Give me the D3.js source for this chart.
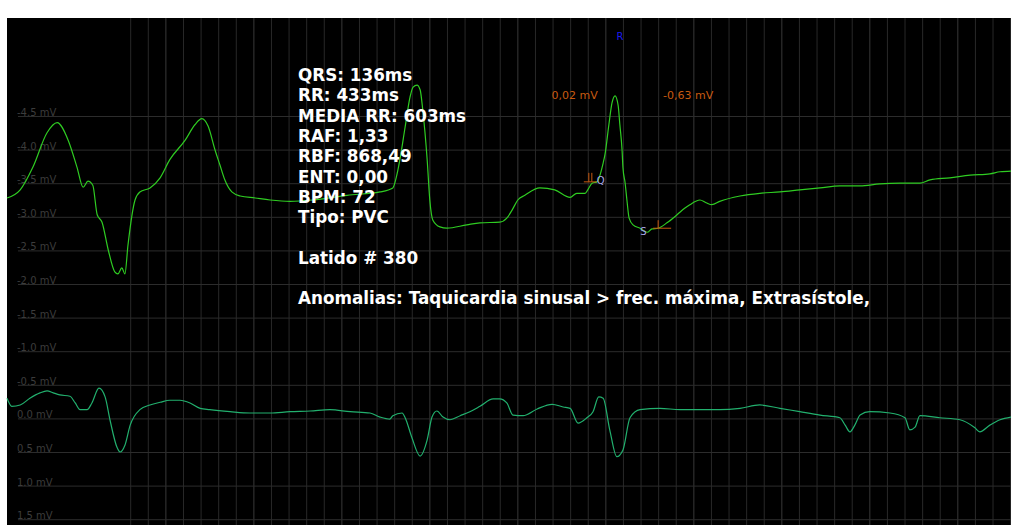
<!DOCTYPE html>
<html>
<head>
<meta charset="utf-8">
<script src="https://cdn.jsdelivr.net/npm/d3@7"></script>
<style>
  html, body { margin: 0; padding: 0; background: #fff; }
  svg { display: block; }
</style>
</head>
<body>
<svg id="ecg" width="1011" height="525"></svg>
<script>
// ---- Lead 1 (upper trace): time in ms, amplitude in mV ----
const topTimes = [0, 30, 59, 91, 114, 139, 159, 173, 184, 195, 205, 216, 230, 245, 252, 261, 268, 275, 291, 302,
  325, 348, 370, 405, 427, 443, 457, 473, 484, 495, 511, 530, 564, 598, 643, 695, 773, 848, 877, 886,
  893, 905, 916, 923, 932, 939, 945, 955, 961, 968, 984, 1000, 1045, 1075, 1120, 1136, 1148, 1161, 1177, 1211,
  1245, 1280, 1295, 1314, 1320, 1330, 1341, 1355, 1359, 1368, 1375, 1382, 1389, 1393, 1398, 1400, 1405, 1409, 1414, 1423,
  1439, 1455, 1466, 1480, 1500, 1523, 1541, 1552, 1575, 1589, 1602, 1620, 1666, 1711, 1757, 1802, 1848, 1893, 1939, 1984,
  2030, 2075, 2098, 2143, 2189, 2234, 2257, 2282];
const topValues = [-3.28, -3.40, -3.74, -4.25, -4.40, -4.14, -3.74, -3.44, -3.53, -3.47, -3.03, -2.92, -2.51, -2.18, -2.15, -2.24, -2.15, -2.58, -3.25, -3.37,
  -3.43, -3.58, -3.85, -4.14, -4.37, -4.46, -4.35, -3.99, -3.77, -3.55, -3.37, -3.31, -3.28, -3.25, -3.23, -3.25, -3.32, -3.37, -3.43, -3.62,
  -3.85, -4.34, -4.78, -4.93, -4.96, -4.89, -4.59, -3.85, -3.25, -2.95, -2.85, -2.83, -2.88, -2.91, -2.92, -2.98, -3.10, -3.25, -3.32, -3.43,
  -3.40, -3.29, -3.35, -3.35, -3.40, -3.50, -3.52, -3.80, -3.92, -4.37, -4.69, -4.80, -4.66, -4.37, -3.99, -3.73, -3.50, -3.25, -2.98, -2.88,
  -2.83, -2.77, -2.82, -2.83, -2.91, -3.03, -3.13, -3.18, -3.25, -3.21, -3.18, -3.23, -3.31, -3.35, -3.37, -3.40, -3.43, -3.46, -3.46, -3.49,
  -3.50, -3.50, -3.55, -3.58, -3.62, -3.64, -3.67, -3.68];

// ---- Lead 2 (lower trace) ----
const bottomTimes = [0, 11, 30, 52, 75, 91, 105, 120, 143, 155, 166, 182, 193, 209, 223, 234, 250, 257, 268, 280,
  302, 325, 348, 370, 393, 416, 439, 461, 507, 552, 598, 643, 689, 734, 780, 825, 848, 870, 877, 898,
  905, 920, 939, 955, 966, 977, 991, 1007, 1030, 1052, 1075, 1105, 1120, 1136, 1150, 1173, 1205, 1239, 1264, 1280,
  1298, 1318, 1332, 1345, 1355, 1370, 1386, 1400, 1416, 1439, 1484, 1530, 1575, 1620, 1666, 1711, 1757, 1802, 1848, 1893,
  1905, 1916, 1927, 1939, 1961, 2007, 2041, 2052, 2064, 2075, 2120, 2166, 2200, 2211, 2234, 2257, 2282];
const bottomValues = [-0.30, -0.18, -0.20, -0.30, -0.38, -0.41, -0.38, -0.35, -0.33, -0.23, -0.13, -0.13, -0.23, -0.45, -0.32, 0.02, 0.43, 0.50, 0.40, 0.10,
  -0.13, -0.20, -0.24, -0.27, -0.27, -0.23, -0.15, -0.13, -0.10, -0.08, -0.08, -0.10, -0.11, -0.13, -0.10, -0.08, -0.02, 0.01, -0.04, -0.08,
  -0.01, 0.28, 0.56, 0.32, -0.02, -0.11, -0.02, 0.02, -0.04, -0.10, -0.18, -0.29, -0.29, -0.23, -0.05, -0.04, -0.14, -0.21, -0.17, -0.15,
  0.07, -0.01, -0.10, -0.32, -0.30, 0.17, 0.57, 0.47, -0.01, -0.13, -0.15, -0.13, -0.13, -0.13, -0.15, -0.20, -0.15, -0.10, -0.05, -0.01,
  0.10, 0.20, 0.10, -0.05, -0.10, -0.08, -0.01, 0.17, 0.13, -0.04, -0.01, 0.02, 0.14, 0.20, 0.10, 0.02, -0.02];

// ---- Axis ticks ----
const amplitudeTicks = [-4.5, -4.0, -3.5, -3.0, -2.5, -2.0, -1.5, -1.0, -0.5, 0.0, 0.5, 1.0, 1.5];
const gridTimes = d3.range(280, 2282, 40);

// ---- Fiducial points of the current beat (lead 1) ----
const qPoint = { t: 1327, v: -3.52 };
const rPoint = { t: 1382, v: -4.80 };
const sPoint = { t: 1480, v: -2.83 };
const amplitudeLabels = [
  { t: 1290, text: "0,02 mV" },
  { t: 1548, text: "-0,63 mV" }
];

// ---- Beat summary ----
const infoLines = [
  "QRS: 136ms",
  "RR: 433ms",
  "MEDIA RR: 603ms",
  "RAF: 1,33",
  "RBF: 868,49",
  "ENT: 0,00",
  "BPM: 72",
  "Tipo: PVC",
  "",
  "Latido # 380",
  "",
  "Anomalias: Taquicardia sinusal > frec. máxima, Extrasístole,"
];

const plot = { left: 7, top: 18, right: 1011, bottom: 525 };

const svg = d3.select("#ecg");

svg.append("rect")
  .attr("x", plot.left).attr("y", plot.top)
  .attr("width", plot.right - plot.left).attr("height", plot.bottom - plot.top)
  .attr("fill", "#000");

const x = d3.scaleLinear().domain([0, 2282]).range([plot.left, plot.right]);
const y = d3.scaleLinear().domain([-4.5, 1.5]).range([116, 519.2]);

// vertical time grid (40 ms)
const xGrid = svg.append("g")
  .attr("transform", `translate(0,${plot.bottom})`)
  .call(d3.axisBottom(x).tickValues(gridTimes).tickSize(-(plot.bottom - plot.top)).tickFormat(""));
xGrid.select(".domain").remove();
xGrid.selectAll(".tick line")
  .attr("stroke", (d, i) => (i % 5 === 2 ? "#383838" : "#282828"))
  .attr("stroke-width", 1);

// horizontal amplitude grid with labels
const yGrid = svg.append("g")
  .attr("transform", "translate(18,0)")
  .call(d3.axisRight(y).tickValues(amplitudeTicks).tickSize(plot.right - 18)
    .tickFormat(d => d.toFixed(1).replace("\u2212", "-") + " mV"));
yGrid.select(".domain").remove();
yGrid.selectAll(".tick line").attr("stroke", "#2c2c2c");
yGrid.selectAll(".tick text")
  .attr("x", -1).attr("dy", "-0.05em")
  .attr("text-anchor", "start")
  .attr("font-family", "DejaVu Sans, sans-serif")
  .attr("font-size", 10)
  .attr("fill", "#3c3c3c");

// traces
const line = d3.line()
  .x(d => x(d[0]))
  .y(d => y(d[1]))
  .curve(d3.curveMonotoneX);

svg.append("path")
  .datum(d3.zip(bottomTimes, bottomValues))
  .attr("fill", "none")
  .attr("stroke", "#22b06e")
  .attr("stroke-width", 1.2)
  .attr("d", line);

svg.append("path")
  .datum(d3.zip(topTimes, topValues))
  .attr("fill", "none")
  .attr("stroke", "#2fcc22")
  .attr("stroke-width", 1.2)
  .attr("d", line);

// fiducial markers
const orange = "#c85a10";
const font = "DejaVu Sans, sans-serif";

const qx = x(qPoint.t), qy = y(qPoint.v);
const qMark = svg.append("g").attr("stroke", orange).attr("stroke-width", 1);
qMark.append("line").attr("x1", qx - 7).attr("x2", qx + 6).attr("y1", qy).attr("y2", qy);
qMark.append("line").attr("x1", qx - 2).attr("x2", qx - 2).attr("y1", qy - 9).attr("y2", qy);
qMark.append("line").attr("x1", qx + 1).attr("x2", qx + 1).attr("y1", qy - 9).attr("y2", qy);
svg.append("text").attr("x", qx + 6).attr("y", qy + 2)
  .attr("font-family", font).attr("font-size", 10).attr("fill", "#a8a8e8").text("Q");

const sx = x(sPoint.t), sy = y(sPoint.v);
const sMark = svg.append("g").attr("stroke", orange).attr("stroke-width", 1);
sMark.append("line").attr("x1", sx - 5).attr("x2", sx + 13).attr("y1", sy).attr("y2", sy);
sMark.append("line").attr("x1", sx).attr("x2", sx).attr("y1", sy - 8).attr("y2", sy);
svg.append("text").attr("x", sx - 18).attr("y", sy + 7)
  .attr("font-family", font).attr("font-size", 10).attr("fill", "#a8a8e8").text("S");

svg.append("text").attr("x", x(rPoint.t) + 5).attr("y", 40)
  .attr("text-anchor", "middle")
  .attr("font-family", font).attr("font-size", 10).attr("fill", "#1a1aee").text("R");

svg.selectAll("text.amp")
  .data(amplitudeLabels)
  .join("text")
  .attr("class", "amp")
  .attr("x", d => x(d.t)).attr("y", 99)
  .attr("text-anchor", "middle")
  .attr("font-family", font).attr("font-size", 11)
  .attr("fill", orange)
  .text(d => d.text);

// beat summary block
svg.append("g")
  .selectAll("text")
  .data(infoLines)
  .join("text")
  .attr("x", 298)
  .attr("y", (d, i) => 81 + i * 20.3)
  .attr("font-family", "DejaVu Sans, sans-serif")
  .attr("font-weight", "bold")
  .attr("font-size", 16.8)
  .attr("fill", "#fff")
  .text(d => d);
</script>
</body>
</html>
